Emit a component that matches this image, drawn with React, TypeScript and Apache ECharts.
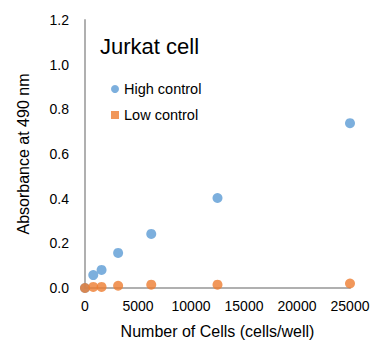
import React, { useEffect, useRef } from "react";
import * as echarts from "echarts";

const cells = [0, 781, 1562, 3125, 6250, 12500, 25000];
const highControl = [0.0, 0.058, 0.081, 0.157, 0.242, 0.403, 0.738];
const lowControl = [0.0, 0.005, 0.005, 0.01, 0.015, 0.015, 0.02];
const title = "Jurkat cell";
const seriesNames = ["High control", "Low control"];

export default function App() {
  const ref = useRef<HTMLDivElement>(null);
  useEffect(() => {
    if (!ref.current) return;
    const chart = echarts.init(ref.current, undefined, { renderer: "svg" });
    const font = "Liberation Sans, Arial, sans-serif";
    chart.setOption({
      animation: false,
      title: {
        text: title,
        left: 95,
        top: 30,
        textStyle: { fontFamily: font, fontSize: 22, fontWeight: "normal", color: "#000" },
      },
      legend: {
        orient: "vertical",
        left: 106,
        top: 76,
        itemWidth: 8,
        itemHeight: 8,
        itemGap: 10,
        textStyle: { fontFamily: font, fontSize: 14.5, color: "#000", lineHeight: 16 },
        data: [
          { name: seriesNames[0], icon: "circle" },
          { name: seriesNames[1], icon: "rect" },
        ],
      },
      grid: {
        left: 85,
        right: 21,
        top: 20,
        bottom: 53,
        containLabel: false,
        outerBoundsMode: "none",
      },
      xAxis: {
        type: "value",
        min: 0,
        max: 25000,
        interval: 5000,
        name: "Number of Cells (cells/well)",
        nameLocation: "middle",
        nameGap: 35,
        nameTextStyle: { fontFamily: font, fontSize: 16, color: "#000" },
        axisLine: { show: true, lineStyle: { color: "#B0B0B0", width: 2 } },
        axisTick: { show: false },
        splitLine: { show: false },
        axisLabel: {
          fontFamily: font,
          fontSize: 14,
          color: "#000",
          margin: 11,
          formatter: (v: number) => String(v),
        },
      },
      yAxis: {
        type: "value",
        min: 0,
        max: 1.2,
        interval: 0.2,
        name: "Absorbance at 490 nm",
        nameLocation: "middle",
        nameGap: 54,
        nameTextStyle: { fontFamily: font, fontSize: 16, color: "#000" },
        axisLine: { show: true, lineStyle: { color: "#B0B0B0", width: 2 } },
        axisTick: { show: false },
        splitLine: { show: false },
        axisLabel: {
          fontFamily: font,
          fontSize: 14,
          color: "#000",
          margin: 16,
          formatter: (v: number) => v.toFixed(1),
        },
      },
      series: [
        {
          name: seriesNames[0],
          type: "scatter",
          symbol: "circle",
          symbolSize: 10,
          itemStyle: { color: "#5B9BD5" },
          data: cells.map((c, i) => [c, highControl[i]]),
        },
        {
          name: seriesNames[1],
          type: "scatter",
          symbol: "circle",
          symbolSize: 10,
          itemStyle: { color: "#ED7D31" },
          data: cells.map((c, i) => [c, lowControl[i]]),
        },
      ],
    });
    return () => chart.dispose();
  }, []);
  return (
    <div
      ref={ref}
      style={{ position: "absolute", left: 0, top: 0, width: 371, height: 341 }}
    />
  );
}
